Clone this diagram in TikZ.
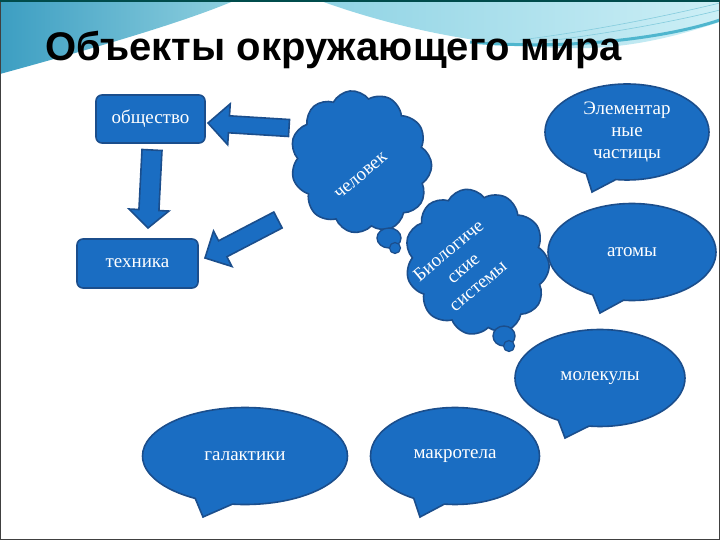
\documentclass[tikz,border=0pt]{standalone}
\usepackage{fontspec}
\setmainfont{Liberation Serif}
\newfontfamily\titlefont{Liberation Sans}
\usetikzlibrary{shapes.symbols,shapes.callouts,calc}
\definecolor{bfill}{HTML}{1A6DC2}
\definecolor{bline}{HTML}{1B4E8C}
\definecolor{teal1}{HTML}{3C9EC2}
\definecolor{teal2}{HTML}{8FD0DF}
\definecolor{cyan1}{HTML}{8FD3E4}
\definecolor{cyan2}{HTML}{CDEFF6}
\definecolor{streak}{HTML}{4FB6CE}
\tikzset{
  shapebase/.style={fill=bfill, draw=bline, line width=1.6pt, text=white},
  boxsty/.style={shapebase, rounded corners=6pt, inner sep=0pt},
  bubble/.style={shapebase, ellipse callout, inner sep=0pt, callout pointer arc=22},
  cloudsty/.style={shapebase, cloud, cloud puffs=11, cloud puff arc=115, aspect=1, inner sep=0pt},
  arr/.style={shapebase},
  lbl/.style={font=\fontsize{19}{22}\selectfont, text=white, align=center},
}
\newcommand{\blockarrow}[5]{%
  \coordinate (ba1) at ($(#2)!#5!(#1)$);
  \draw[arr] ($(#1)!#3!90:(#2)$) -- ($(ba1)!#3!-90:(#1)$) -- ($(ba1)!#4!-90:(#1)$) -- (#2)
     -- ($(ba1)!#4!90:(#1)$) -- ($(ba1)!#3!90:(#1)$) -- ($(#1)!#3!-90:(#2)$) -- cycle;}
\begin{document}
\begin{tikzpicture}[x=1pt,y=-1pt]
\useasboundingbox (0,0) rectangle (720,540);
% background
\fill[white] (0,0) rectangle (720,540);
\shade[left color=teal1, right color=teal2] (0,0) -- (236,0) .. controls (180,24) and (80,52) .. (0,74) -- cycle;
\shade[left color=cyan1, right color=cyan2] (318,0) -- (720,0) -- (720,22) .. controls (680,35) and (640,46) .. (590,48) .. controls (500,50) and (400,30) .. (318,0) -- cycle;
\draw[streak, line width=3pt] (470,42) .. controls (560,50) and (660,40) .. (720,20);
\draw[streak!70, line width=0.6pt] (520,40) .. controls (600,30) and (670,15) .. (720,3);
\draw[streak!70, line width=0.6pt] (540,42) .. controls (620,32) and (680,20) .. (720,10);
\draw[color=black!75, line width=1.5pt] (0,0) rectangle (720,540);
\draw[color=teal!60!black, line width=2pt] (0,1) -- (720,1);
% title
\node[anchor=base west, inner sep=0pt] (title) at (45,61) {\titlefont\bfseries\fontsize{40}{44}\selectfont Объекты окружающего мира};
% boxes
\node[boxsty, minimum width=109, minimum height=48, lbl] (soc) at (150.5,119) {общество};
\node[boxsty, minimum width=121, minimum height=49, lbl] (tech) at (137.5,263.5) {техника};
% clouds
\node[cloudsty, minimum width=138, minimum height=146, rotate=40] (man) at (361,162) {};
\node[lbl, rotate=40] (mantxt) at (361,176) {человек};
\fill[bfill, draw=bline, line width=1.4pt] (389,238) ellipse (12 and 10);
\fill[bfill, draw=bline, line width=1.2pt] (395,248) circle (5.5);
\node[cloudsty, minimum width=140, minimum height=150, rotate=40] (bio) at (477,262) {};
\node[lbl, rotate=40, font=\fontsize{19}{23}\selectfont] (biotxt) at (463,268) {Биологиче\\ские\\системы};
\fill[bfill, draw=bline, line width=1.4pt] (504,336) ellipse (11 and 10);
\fill[bfill, draw=bline, line width=1.2pt] (509,346) circle (5.5);
% callouts
\node[bubble, minimum width=164, minimum height=96, callout absolute pointer={(592,192)}, lbl] (elem) at (627,132) {Элементар\\ные\\частицы};
\node[bubble, minimum width=168, minimum height=97, callout absolute pointer={(600,313)}, lbl] (atom) at (632,252) {атомы};
\node[bubble, minimum width=170, minimum height=97, callout absolute pointer={(565,438)}, lbl] (mol) at (600,378) {молекулы};
\node[bubble, minimum width=205, minimum height=97, callout absolute pointer={(203,517)}, lbl] (gal) at (245,456) {галактики};
\node[bubble, minimum width=169, minimum height=97, callout absolute pointer={(420,517)}, lbl] (macro) at (455,456) {макротела};
% arrows
\coordinate (a1s) at (289,128);
\coordinate (a1e) at (208,123);
\coordinate (a2s) at (152,150);
\coordinate (a2e) at (148,228);
\coordinate (a3s) at (278,220);
\coordinate (a3e) at (205,258);
\blockarrow{a1s}{a1e}{8.5pt}{20.5pt}{21pt}
\blockarrow{a2s}{a2e}{10pt}{20pt}{18pt}
\blockarrow{a3s}{a3e}{9pt}{20pt}{20pt}
\end{tikzpicture}
\end{document}
